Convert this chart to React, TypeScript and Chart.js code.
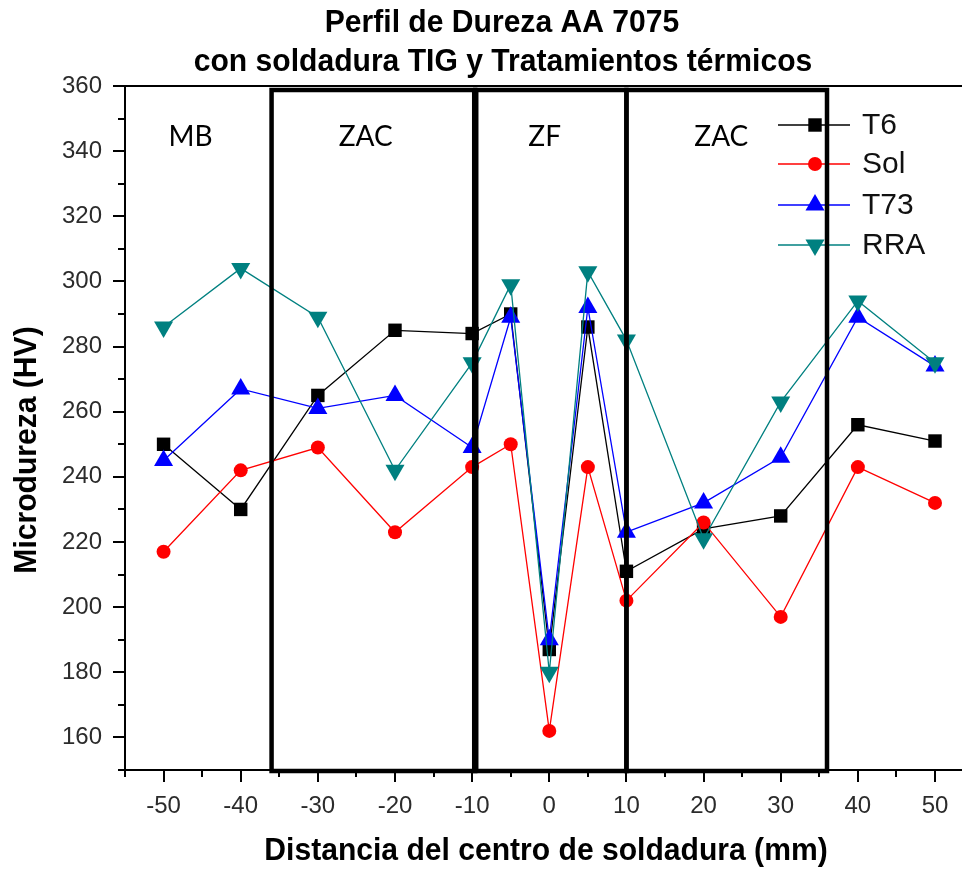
import { useEffect, useRef } from "react";
import { Chart, registerables } from "chart.js";

Chart.register(...registerables);

// Distance from the weld centre (mm)
const positions = [-50, -40, -30, -20, -10, -5, 0, 5, 10, 20, 30, 40, 50];

// Microhardness (HV) for each heat treatment
const t6 = [250, 230, 265, 285, 284, 290, 187, 286, 211, 224, 228, 256, 251];
const sol = [217, 242, 249, 223, 243, 250, 162, 243, 202, 226, 197, 243, 232];
const t73 = [245, 267, 261, 265, 249, 289, 190, 292, 223, 232, 246, 289, 274];
const rra = [286, 304, 289, 242, 275, 299, 180, 303, 282, 221, 263, 294, 275];

const seriesNames = ["T6", "Sol", "T73", "RRA"];

// Axis ticks
const xTicks = [-50, -40, -30, -20, -10, 0, 10, 20, 30, 40, 50];
const xMinorTicks = [-55, -45, -35, -25, -15, -5, 5, 15, 25, 35, 45];
const yTicks = [160, 180, 200, 220, 240, 260, 280, 300, 320, 340, 360];
const yMinorTicks = [150, 170, 190, 210, 230, 250, 270, 290, 310, 330, 350];

// Weld zones: boundaries (mm) and labels
const zoneBounds = [-36, -9.6, 10, 36];
const zoneNames = ["MB", "ZAC", "ZF", "ZAC"];
const zoneLabelX = [-46.5, -23.8, -0.6, 22.3];
const zoneLabelY = 344.5;

const titleLines = ["Perfil de Dureza AA 7075", "con soldadura TIG y Tratamientos térmicos"];
const xTitle = "Distancia del centro de soldadura (mm)";
const yTitle = "Microdureza (HV)";

const styles = [
  { color: "#000000", point: "rect", radius: 9.5, rotation: 0 },
  { color: "#ff0000", point: "circle", radius: 7, rotation: 0 },
  { color: "#0000ff", point: "triangle", radius: 11, rotation: 0 },
  { color: "#008080", point: "triangle", radius: 11, rotation: 180 },
];

const toPoints = (vals: number[]) => positions.map((x, i) => ({ x, y: vals[i] }));

function condensedText(
  ctx: CanvasRenderingContext2D,
  text: string,
  x: number,
  y: number,
  font: string,
  scaleX: number,
  rotate = false,
  color = "#000"
) {
  ctx.save();
  ctx.translate(x, y);
  if (rotate) ctx.rotate(-Math.PI / 2);
  ctx.scale(scaleX, 1);
  ctx.font = font;
  ctx.fillStyle = color;
  ctx.textAlign = "center";
  ctx.textBaseline = "middle";
  ctx.fillText(text, 0, 0);
  ctx.restore();
}

function drawMarker(
  ctx: CanvasRenderingContext2D,
  style: string,
  radius: number,
  rotation: number,
  x: number,
  y: number
) {
  ctx.beginPath();
  if (style === "rect") {
    const s = Math.SQRT1_2 * radius;
    ctx.rect(x - s, y - s, 2 * s, 2 * s);
  } else if (style === "circle") {
    ctx.arc(x, y, radius, 0, Math.PI * 2);
  } else {
    const base = (rotation * Math.PI) / 180 - Math.PI / 2;
    for (let k = 0; k < 3; k++) {
      const ang = base + (k * 2 * Math.PI) / 3;
      const px = x + Math.cos(ang) * radius;
      const py = y + Math.sin(ang) * radius;
      if (k === 0) ctx.moveTo(px, py);
      else ctx.lineTo(px, py);
    }
    ctx.closePath();
  }
  ctx.fill();
}

const framePlugin = {
  id: "frame",
  afterDatasetsDraw(chart: any) {
    const ctx: CanvasRenderingContext2D = chart.ctx;
    const { left, top, bottom } = chart.chartArea;
    const right = chart.width;
    const xs = chart.scales.x;
    const ys = chart.scales.y;

    ctx.save();
    ctx.strokeStyle = "#000";
    ctx.lineCap = "butt";

    // axis lines
    ctx.lineWidth = 2;
    ctx.beginPath();
    ctx.moveTo(left, top);
    ctx.lineTo(right, top);
    ctx.moveTo(left, top);
    ctx.lineTo(left, bottom + 6);
    ctx.moveTo(left, bottom);
    ctx.lineTo(right, bottom);
    ctx.stroke();

    // tick marks
    ctx.beginPath();
    yTicks.forEach((v) => {
      const p = Math.round(ys.getPixelForValue(v));
      ctx.moveTo(left - 12, p);
      ctx.lineTo(left, p);
    });
    yMinorTicks.forEach((v) => {
      const p = Math.round(ys.getPixelForValue(v));
      ctx.moveTo(left - 7, p);
      ctx.lineTo(left, p);
    });
    xTicks.forEach((v) => {
      const p = Math.round(xs.getPixelForValue(v));
      ctx.moveTo(p, bottom);
      ctx.lineTo(p, bottom + 12);
    });
    xMinorTicks.forEach((v) => {
      const p = Math.round(xs.getPixelForValue(v));
      ctx.moveTo(p, bottom);
      ctx.lineTo(p, bottom + 7);
    });
    ctx.stroke();

    // tick labels
    ctx.fillStyle = "#2b2b2b";
    ctx.font = "24px 'Liberation Sans', Arial, sans-serif";
    ctx.textAlign = "right";
    ctx.textBaseline = "middle";
    yTicks.forEach((v) => {
      ctx.fillText(String(v), left - 23, ys.getPixelForValue(v));
    });
    ctx.textAlign = "center";
    ctx.textBaseline = "middle";
    xTicks.forEach((v) => {
      ctx.fillText(String(v), xs.getPixelForValue(v), bottom + 36);
    });

    // legend
    const legX0 = 778;
    const legX1 = 850;
    const legMarker = 815;
    const legText = 862;
    const legRows = [125, 164, 205, 245];
    chart.data.datasets.forEach((ds: any, i: number) => {
      const yRow = legRows[i];
      ctx.strokeStyle = ds.borderColor;
      ctx.lineWidth = 1.5;
      ctx.beginPath();
      ctx.moveTo(legX0, yRow);
      ctx.lineTo(legX1, yRow);
      ctx.stroke();
      ctx.fillStyle = ds.pointBackgroundColor;
      const st = styles[i];
      drawMarker(ctx, st.point, st.radius, st.rotation, legMarker, yRow);
      ctx.font = "30px 'Liberation Sans', Arial, sans-serif";
      ctx.fillStyle = "#111";
      ctx.textAlign = "left";
      ctx.textBaseline = "middle";
      ctx.fillText(seriesNames[i], legText, yRow + 1);
    });

    // weld zone frames
    ctx.strokeStyle = "#000";
    ctx.lineWidth = 4.5;
    const zTop = top + 4;
    const zBottom = bottom + 1;
    for (let i = 0; i < zoneBounds.length - 1; i++) {
      const a = xs.getPixelForValue(zoneBounds[i]);
      const b = xs.getPixelForValue(zoneBounds[i + 1]);
      ctx.strokeRect(a, zTop, b - a, zBottom - zTop);
    }
    ctx.lineWidth = 6.5;
    ctx.beginPath();
    const mid = xs.getPixelForValue(zoneBounds[1]);
    ctx.moveTo(mid, zTop);
    ctx.lineTo(mid, zBottom);
    ctx.stroke();

    // zone names
    ctx.fillStyle = "#000";
    ctx.font = "28px Lato, 'Open Sans', sans-serif";
    ctx.textAlign = "center";
    ctx.textBaseline = "middle";
    zoneNames.forEach((name, i) => {
      ctx.fillText(name, xs.getPixelForValue(zoneLabelX[i]), ys.getPixelForValue(zoneLabelY));
    });

    // titles
    const boldFont = "bold 32px 'Liberation Sans', Arial, sans-serif";
    condensedText(ctx, titleLines[0], 502, 23, boldFont, 0.94);
    condensedText(ctx, titleLines[1], 503, 62, boldFont, 0.94);
    condensedText(ctx, xTitle, 546, 851, boldFont, 0.94);
    condensedText(ctx, yTitle, 27, 450, boldFont, 0.94, true);

    ctx.restore();
  },
};

export default function App() {
  const canvasRef = useRef<HTMLCanvasElement | null>(null);

  useEffect(() => {
    const canvas = canvasRef.current;
    if (!canvas) return;
    const values = [t6, sol, t73, rra];
    const chart = new Chart(canvas, {
      type: "line",
      data: {
        datasets: values.map((vals, i) => ({
          label: seriesNames[i],
          data: toPoints(vals),
          borderColor: styles[i].color,
          backgroundColor: styles[i].color,
          pointBackgroundColor: styles[i].color,
          pointBorderColor: styles[i].color,
          pointBorderWidth: 0,
          pointStyle: styles[i].point as any,
          pointRadius: styles[i].radius,
          pointRotation: styles[i].rotation,
          borderWidth: 1.3,
          tension: 0,
          order: 3 - i,
        })),
      },
      options: {
        responsive: false,
        animation: false,
        layout: { autoPadding: false, padding: { top: 86, left: 125, right: 0, bottom: 100 } },
        plugins: {
          legend: { display: false },
          title: { display: false },
          tooltip: { enabled: false },
        },
        scales: {
          x: { type: "linear", min: -55, max: 53.5, display: false },
          y: { type: "linear", min: 150, max: 360, display: false },
        },
      },
      plugins: [framePlugin],
    });
    return () => chart.destroy();
  }, []);

  return (
    <div style={{ position: "absolute", left: 0, top: 0, width: 962, height: 870, background: "#fff" }}>
      <canvas ref={canvasRef} width={962} height={870} />
    </div>
  );
}
